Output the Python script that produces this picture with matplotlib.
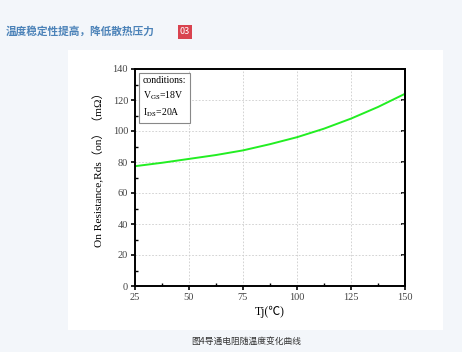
import numpy as np
import matplotlib
matplotlib.use("Agg")
import matplotlib.pyplot as plt
from matplotlib.patches import Rectangle

# 数据
temps = [25, 37.5, 50, 62.5, 75, 87.5, 100, 112.5, 125, 137.5, 150]
rds = [77.3, 79.5, 82, 84.5, 87.5, 91.5, 96, 101.5, 108, 115.5, 124]
xticks = [25, 50, 75, 100, 125, 150]
yticks = [0, 20, 40, 60, 80, 100, 120, 140]

title = "温度稳定性提高，降低散热压力"
badge = "03"
caption = "图4导通电阻随温度变化曲线"

plt.rcParams["mathtext.fontset"] = "stix"
serif = ["Liberation Serif", "Noto Sans CJK SC", "DejaVu Sans"]
cjk = ["Noto Sans CJK SC", "DejaVu Sans"]

W, H = 462, 352
fig = plt.figure(figsize=(W / 100, H / 100), dpi=100)
fig.patch.set_facecolor("#f3f6fa")

# 白色面板
fig.patches.append(Rectangle((68 / W, 1 - 330 / H), 375 / W, 280 / H,
                             transform=fig.transFigure, facecolor="white",
                             edgecolor="none", zorder=-5))

fig.text(6 / W, 1 - 32 / H, title, family=cjk, fontsize=7.7, color="#4b82b8",
         fontweight="bold", va="center", ha="left")
fig.patches.append(Rectangle((178 / W, 1 - 39 / H), 14 / W, 14 / H,
                             transform=fig.transFigure, facecolor="#d9434f",
                             edgecolor="none"))
fig.text(185 / W, 1 - 32 / H, badge, family=cjk, fontsize=6.5, color="white",
         va="center", ha="center")
fig.text(246 / W, 1 - 341 / H, caption, family=cjk, fontsize=6.3, color="#333333",
         va="center", ha="center")

ax = fig.add_axes([135 / W, 1 - 286 / H, 270 / W, 217 / H])
ax.set_zorder(5)
ax.plot(temps, rds, color="#22ee22", lw=1.4)
ax.set_xlim(25, 150)
ax.set_ylim(0, 140)
ax.set_xticks(xticks)
ax.set_yticks(yticks)
ax.set_xticks([37.5, 62.5, 87.5, 112.5, 137.5], minor=True)
ax.set_yticks(np.arange(10, 140, 20), minor=True)
ax.grid(True, which="major", color="#cccccc", ls=(0, (2, 2)), lw=0.6)

for s in ax.spines.values():
    s.set_linewidth(1.4)
ax.tick_params(which="major", direction="out", length=3, width=1.2,
               labelsize=7.5, pad=2, labelcolor="#444444")
ax.tick_params(which="minor", direction="in", length=2, width=1.0)
for lab in ax.get_xticklabels() + ax.get_yticklabels():
    lab.set_family(serif)

# 右侧刻度朝内
sec = ax.secondary_yaxis("right")
sec.set_yticks(yticks)
sec.tick_params(direction="in", length=3, width=1.2, labelright=False)
sec.spines["right"].set_linewidth(1.4)

ax.set_xlabel("Tj(℃)", family=serif, fontsize=8.5, labelpad=3)
ax.set_ylabel("On Resistance,Rds（on）（mΩ）", family=serif, fontsize=8.2)
ax.yaxis.set_label_coords(-0.115, 0.55)

ax.text(0.03, 0.97, "conditions:\n" + r"V$_{\rm GS}$=18V" + "\n" + r"I$_{\rm DS}$=20A",
        transform=ax.transAxes, family=serif, fontsize=7, va="top", ha="left",
        linespacing=1.55,
        bbox=dict(boxstyle="square,pad=0.4", facecolor="white", edgecolor="#888888", lw=0.8))

fig.savefig("out.png", dpi=100, facecolor=fig.get_facecolor())
